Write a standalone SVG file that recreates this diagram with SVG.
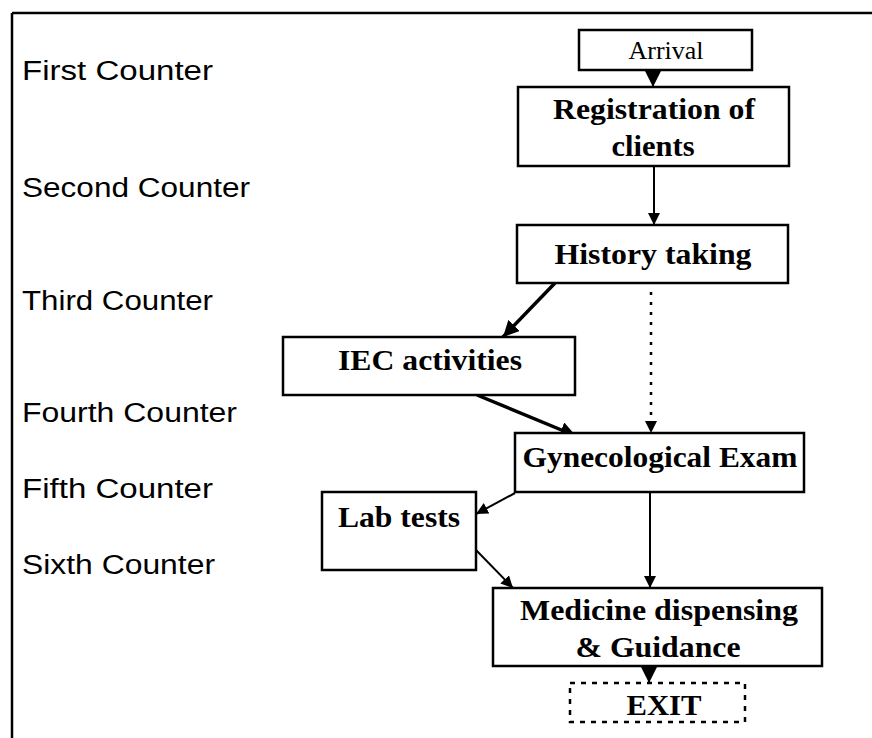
<svg xmlns="http://www.w3.org/2000/svg" width="872" height="738" viewBox="0 0 872 738">
<style>
.box{fill:#fff;stroke:#000;stroke-width:2.5}
.dash{fill:none;stroke:#000;stroke-width:2.5;stroke-dasharray:5 6}
.lbl{font-family:"Liberation Serif","Times New Roman",serif;font-weight:bold;font-size:30px;fill:#000;text-anchor:middle}
.lbl2{font-family:"Liberation Serif","Times New Roman",serif;font-size:25px;fill:#000;text-anchor:middle}
.ctr{font-family:"Liberation Sans",Arial,sans-serif;font-size:27px;fill:#000}
.ln{stroke:#000;stroke-width:2;fill:none}
.th{stroke:#000;stroke-width:3.5;fill:none}
.dot{stroke:#000;stroke-width:2.5;fill:none;stroke-dasharray:3 7}
</style>
<defs>
<marker id="ah" viewBox="0 0 10 10" refX="10" refY="5" markerWidth="12" markerHeight="12" markerUnits="userSpaceOnUse" orient="auto">
<path d="M0,0 L10,5 L0,10 z" fill="#000"/>
</marker>
<marker id="ahb" viewBox="0 0 10 10" refX="10" refY="5" markerWidth="16" markerHeight="16" markerUnits="userSpaceOnUse" orient="auto">
<path d="M0,0 L10,5 L0,10 z" fill="#000"/>
</marker>
</defs>
<g id="frame">
<line x1="12" y1="13" x2="872" y2="13" stroke="#000" stroke-width="2.5"/>
<line x1="12" y1="13" x2="12" y2="738" stroke="#000" stroke-width="2.5"/>
</g>
<g id="counters">
<text class="ctr" x="22" y="80" textLength="191" lengthAdjust="spacingAndGlyphs">First Counter</text>
<text class="ctr" x="22" y="197" textLength="228" lengthAdjust="spacingAndGlyphs">Second Counter</text>
<text class="ctr" x="22" y="310" textLength="191" lengthAdjust="spacingAndGlyphs">Third Counter</text>
<text class="ctr" x="22" y="422" textLength="215" lengthAdjust="spacingAndGlyphs">Fourth Counter</text>
<text class="ctr" x="22" y="498" textLength="191" lengthAdjust="spacingAndGlyphs">Fifth Counter</text>
<text class="ctr" x="22" y="574" textLength="193" lengthAdjust="spacingAndGlyphs">Sixth Counter</text>
</g>
<g id="connectors">
<line class="ln" x1="653" y1="70" x2="653" y2="87" marker-end="url(#ahb)"/>
<line class="ln" x1="654" y1="166" x2="654" y2="225" marker-end="url(#ah)"/>
<line class="th" x1="555" y1="283" x2="503" y2="337" marker-end="url(#ahb)"/>
<line class="dot" x1="651" y1="292" x2="651" y2="433" marker-end="url(#ah)"/>
<line class="th" x1="477" y1="395" x2="576" y2="436" marker-end="url(#ahb)"/>
<line class="ln" x1="515" y1="493" x2="476" y2="514" marker-end="url(#ah)"/>
<line class="ln" x1="650" y1="493" x2="650" y2="588" marker-end="url(#ah)"/>
<line class="ln" x1="476" y1="550" x2="513" y2="588" marker-end="url(#ah)"/>
<line class="ln" x1="649" y1="667" x2="649" y2="683" marker-end="url(#ahb)"/>
</g>
<g id="arrival">
<rect class="box" x="579" y="30" width="173" height="40"/>
<text class="lbl2" x="666" y="59" textLength="75" lengthAdjust="spacingAndGlyphs">Arrival</text>
</g>
<g id="registration">
<rect class="box" x="518" y="87" width="271" height="79"/>
<text class="lbl" x="654" y="119" textLength="202" lengthAdjust="spacingAndGlyphs">Registration of</text>
<text class="lbl" x="653" y="156" textLength="83" lengthAdjust="spacingAndGlyphs">clients</text>
</g>
<g id="history">
<rect class="box" x="517" y="225" width="271" height="58"/>
<text class="lbl" x="653" y="264" textLength="197" lengthAdjust="spacingAndGlyphs">History taking</text>
</g>
<g id="iec">
<rect class="box" x="283" y="337" width="292" height="58"/>
<text class="lbl" x="430" y="370" textLength="184" lengthAdjust="spacingAndGlyphs">IEC activities</text>
</g>
<g id="gyn">
<rect class="box" x="515" y="433" width="289" height="59"/>
<text class="lbl" x="660" y="467" textLength="275" lengthAdjust="spacingAndGlyphs">Gynecological Exam</text>
</g>
<g id="lab">
<rect class="box" x="322" y="492" width="154" height="78"/>
<text class="lbl" x="399" y="527" textLength="122" lengthAdjust="spacingAndGlyphs">Lab tests</text>
</g>
<g id="medicine">
<rect class="box" x="493" y="588" width="329" height="78"/>
<text class="lbl" x="659" y="620" textLength="278" lengthAdjust="spacingAndGlyphs">Medicine dispensing</text>
<text class="lbl" x="658" y="657" textLength="165" lengthAdjust="spacingAndGlyphs">&amp; Guidance</text>
</g>
<g id="exit">
<rect class="dash" x="570" y="683" width="175" height="39"/>
<text class="lbl" x="664" y="715" textLength="75" lengthAdjust="spacingAndGlyphs">EXIT</text>
</g>
</svg>
